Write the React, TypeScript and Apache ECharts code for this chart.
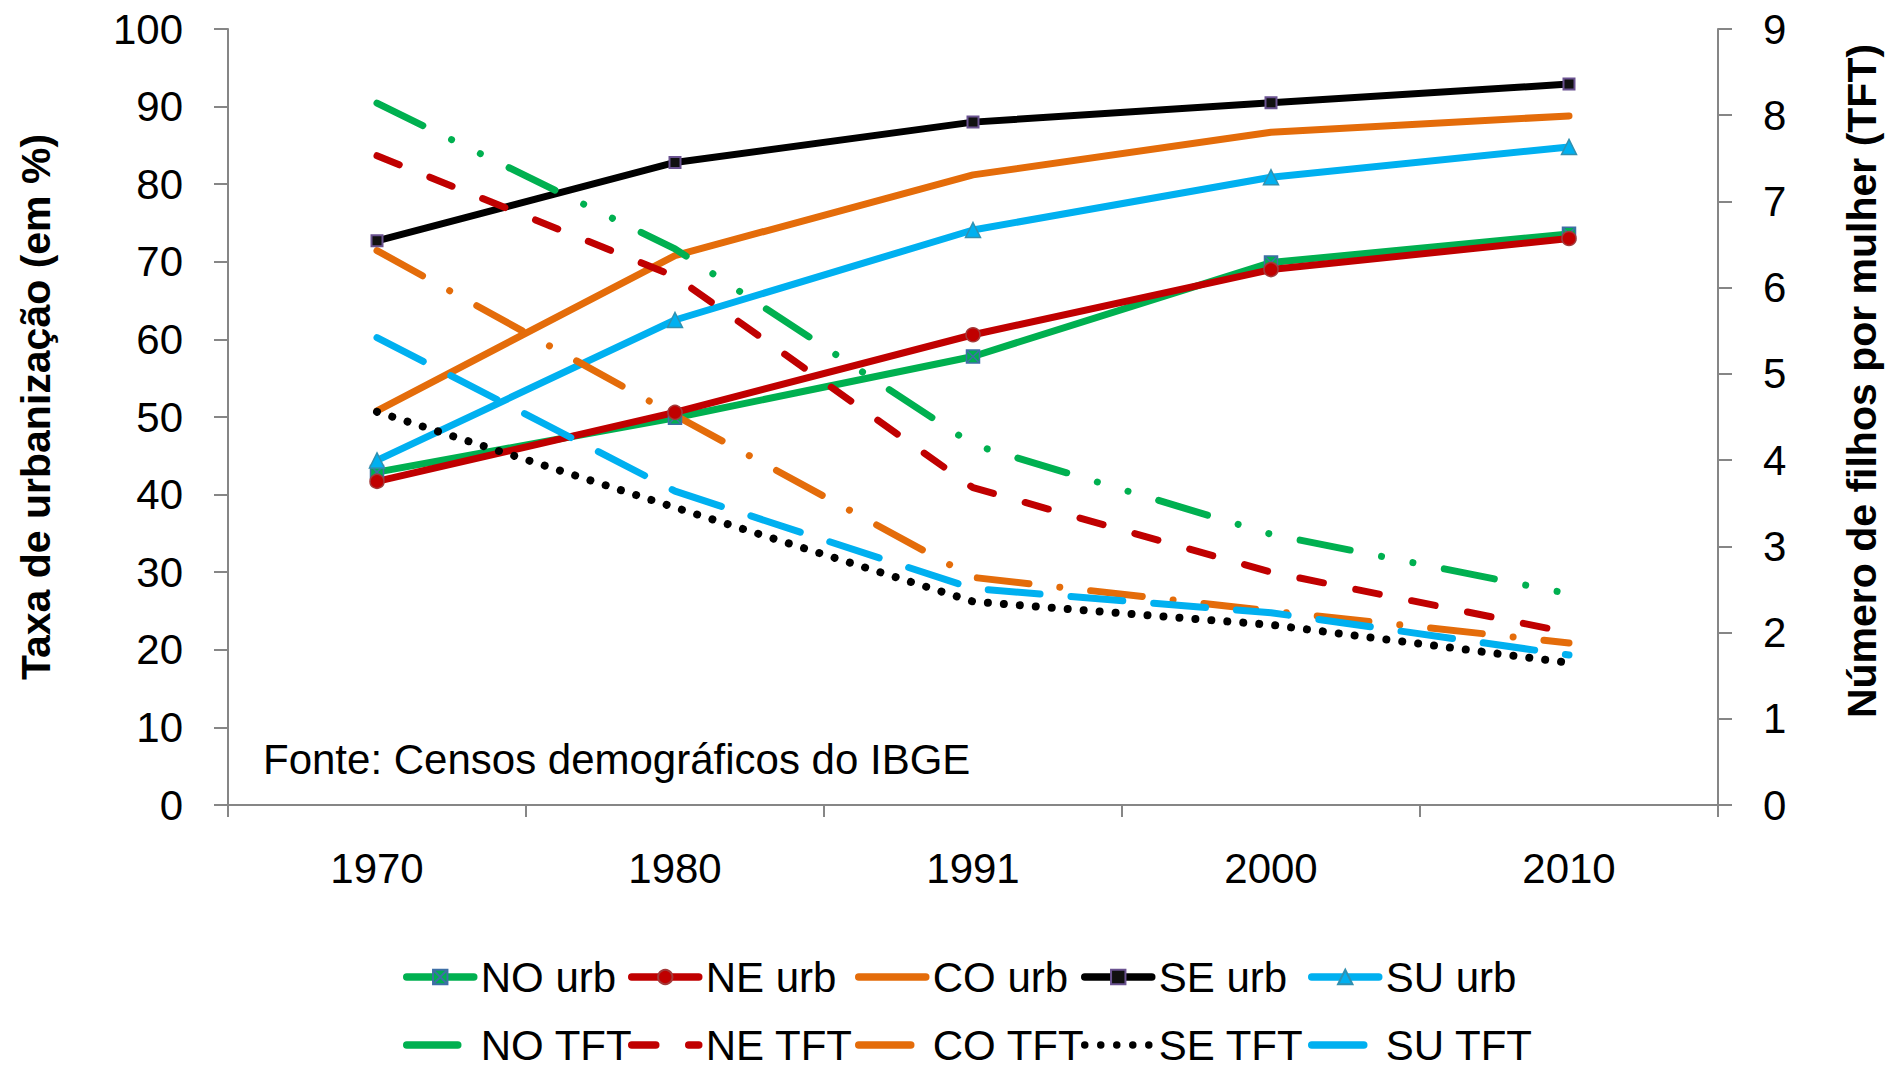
import React, { useEffect, useRef } from 'react';
import * as echarts from 'echarts';

const years = ['1970', '1980', '1991', '2000', '2010'];

const noUrb = [42.9, 49.9, 57.8, 69.9, 73.6];
const neUrb = [41.7, 50.6, 60.6, 69.0, 73.0];
const coUrb = [50.8, 70.8, 81.2, 86.7, 88.8];
const seUrb = [72.7, 82.8, 88.0, 90.5, 92.9];
const suUrb = [44.4, 62.5, 74.1, 80.9, 84.8];

const noTft = [8.14, 6.45, 4.18, 3.14, 2.45];
const neTft = [7.53, 6.13, 3.68, 2.7, 2.0];
const coTft = [6.43, 4.52, 2.64, 2.25, 1.88];
const seTft = [4.56, 3.45, 2.36, 2.09, 1.65];
const suTft = [5.42, 3.64, 2.51, 2.23, 1.74];

const seriesNames = ['NO urb', 'NE urb', 'CO urb', 'SE urb', 'SU urb', 'NO TFT', 'NE TFT', 'CO TFT', 'SE TFT', 'SU TFT'];

const GREEN = '#00B050';
const RED = '#C00000';
const ORANGE = '#E46C0A';
const BLACK = '#000000';
const BLUE = '#00B0F0';
const AXIS = '#868686';
const FONT = 'Liberation Sans';

export default function App() {
  const ref = useRef<HTMLDivElement>(null);
  useEffect(() => {
    if (!ref.current) return;
    const chart = echarts.init(ref.current, undefined, { renderer: 'svg' });
    const lw = 7;
    const urbLine = (color: string) => ({ color, width: lw, type: 'solid' as const, cap: 'round' as const, join: 'round' as const });
    const tftLine = (color: string, dash: number[], w = lw) => ({ color, width: w, type: dash, cap: 'round' as const, join: 'round' as const });

    const series: any[] = [
      {
        name: 'NO urb', type: 'line', data: noUrb, yAxisIndex: 0,
        symbol: 'path://M0,0H10V10H0Z M0,0L10,10 M10,0L0,10', symbolSize: 13,
        itemStyle: { color: GREEN, borderColor: '#3E6FA6', borderWidth: 1.5 },
        lineStyle: urbLine(GREEN),
      },
      {
        name: 'NE urb', type: 'line', data: neUrb, yAxisIndex: 0,
        symbol: 'circle', symbolSize: 14,
        itemStyle: { color: RED, borderColor: '#A33A3A', borderWidth: 1.5 },
        lineStyle: urbLine(RED),
      },
      {
        name: 'CO urb', type: 'line', data: coUrb, yAxisIndex: 0,
        symbol: 'none',
        itemStyle: { color: ORANGE },
        lineStyle: urbLine(ORANGE),
      },
      {
        name: 'SE urb', type: 'line', data: seUrb, yAxisIndex: 0,
        symbol: 'rect', symbolSize: 11,
        itemStyle: { color: '#111111', borderColor: '#6A5290', borderWidth: 2 },
        lineStyle: urbLine(BLACK),
      },
      {
        name: 'SU urb', type: 'line', data: suUrb, yAxisIndex: 0,
        symbol: 'triangle', symbolSize: 15,
        itemStyle: { color: BLUE, borderColor: '#3090B0', borderWidth: 1.5 },
        lineStyle: urbLine(BLUE),
      },
      {
        name: 'NO TFT', type: 'line', data: noTft, yAxisIndex: 1, symbol: 'none',
        itemStyle: { color: GREEN },
        lineStyle: tftLine(GREEN, [51, 32, 0.01, 32, 0.01, 32]),
      },
      {
        name: 'NE TFT', type: 'line', data: neTft, yAxisIndex: 1, symbol: 'none',
        itemStyle: { color: RED },
        lineStyle: tftLine(RED, [24, 33]),
      },
      {
        name: 'CO TFT', type: 'line', data: coTft, yAxisIndex: 1, symbol: 'none',
        itemStyle: { color: ORANGE },
        lineStyle: tftLine(ORANGE, [52, 31, 0.01, 31]),
      },
      {
        name: 'SE TFT', type: 'line', data: seTft, yAxisIndex: 1, symbol: 'none',
        itemStyle: { color: BLACK },
        lineStyle: tftLine(BLACK, [0.01, 16], 8),
      },
      {
        name: 'SU TFT', type: 'line', data: suTft, yAxisIndex: 1, symbol: 'none',
        itemStyle: { color: BLUE },
        lineStyle: tftLine(BLUE, [52, 31]),
      },
    ];

    const cols = [403, 628, 855, 1081, 1308];
    const rows = [956, 1024];
    const noMarker = ['CO urb', 'NO TFT', 'NE TFT', 'CO TFT', 'SE TFT', 'SU TFT'];
    const legends = seriesNames.map((name, i) => ({
      data: [name],
      left: cols[i % 5],
      top: rows[Math.floor(i / 5)],
      padding: 0,
      itemGap: 0,
      itemWidth: 67,
      itemHeight: 18,
      selectedMode: false,
      textStyle: { fontFamily: FONT, fontSize: 42, lineHeight: 42, color: '#000', padding: [0, 0, 0, 2] },
      lineStyle: { width: 7.5 },
      itemStyle: noMarker.includes(name) ? { opacity: 0 } : {},
    }));

    chart.setOption({
      animation: false,
      backgroundColor: '#ffffff',
      grid: { left: 228, right: 172, top: 29, bottom: 263, containLabel: false },
      legend: legends,
      xAxis: {
        type: 'category',
        data: years,
        boundaryGap: true,
        axisLine: { show: true, lineStyle: { color: AXIS, width: 2 } },
        axisTick: { show: true, alignWithLabel: false, length: 12, lineStyle: { color: AXIS, width: 2 } },
        axisLabel: { fontFamily: FONT, fontSize: 42, color: '#000', margin: 42 },
        splitLine: { show: false },
      },
      yAxis: [
        {
          type: 'value', min: 0, max: 100, interval: 10, position: 'left',
          axisLine: { show: true, lineStyle: { color: AXIS, width: 2 } },
          axisTick: { show: true, length: 14, lineStyle: { color: AXIS, width: 2 } },
          axisLabel: { fontFamily: FONT, fontSize: 42, color: '#000', margin: 45 },
          splitLine: { show: false },
        },
        {
          type: 'value', min: 0, max: 9, interval: 1, position: 'right',
          axisLine: { show: true, lineStyle: { color: AXIS, width: 2 } },
          axisTick: { show: true, length: 14, lineStyle: { color: AXIS, width: 2 } },
          axisLabel: { fontFamily: FONT, fontSize: 42, color: '#000', margin: 45 },
          splitLine: { show: false },
        },
      ],
      graphic: [
        {
          type: 'text', x: 36, y: 407, rotation: Math.PI / 2,
          style: { text: 'Taxa de urbanização (em %)', fontFamily: FONT, fontWeight: 'bold', fontSize: 41, fill: '#000', align: 'center', verticalAlign: 'middle' },
        },
        {
          type: 'text', x: 1862, y: 381, rotation: Math.PI / 2,
          style: { text: 'Número de filhos por mulher (TFT)', fontFamily: FONT, fontWeight: 'bold', fontSize: 41, fill: '#000', align: 'center', verticalAlign: 'middle' },
        },
        {
          type: 'text', x: 263, y: 759,
          style: { text: 'Fonte: Censos demográficos do IBGE', fontFamily: FONT, fontSize: 42, fill: '#000', align: 'left', verticalAlign: 'middle' },
        },
      ],
      series,
    });
    return () => chart.dispose();
  }, []);
  return <div ref={ref} style={{ position: 'absolute', left: 0, top: 0, width: 1890, height: 1068, background: '#fff' }} />;
}
